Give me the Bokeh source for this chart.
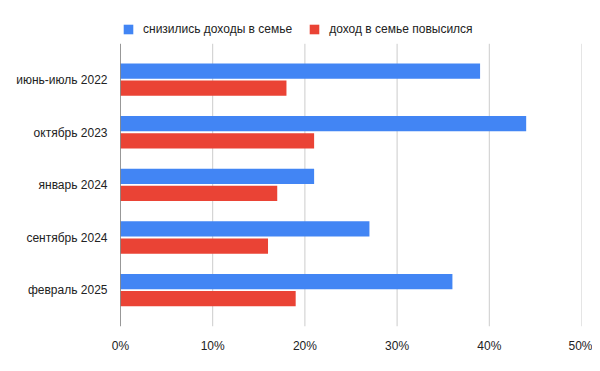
from bokeh.plotting import figure
from bokeh.models import Range1d, FixedTicker, Legend, LegendItem, ColumnDataSource
from bokeh.embed import file_html
from bokeh.resources import INLINE

categories = ["июнь-июль 2022", "октябрь 2023", "январь 2024", "сентябрь 2024", "февраль 2025"]
decreased = [39, 44, 21, 27, 36]
increased = [18, 21, 17, 16, 19]
series_names = ["снизились доходы в семье", "доход в семье повысился"]
x_ticks = [0, 10, 20, 30, 40, 50]

n = len(categories)
ypos = [n - 1 - i for i in range(n)]

src = ColumnDataSource(dict(
    y_blue=[y + 0.167 for y in ypos],
    y_red=[y - 0.158 for y in ypos],
    dec=decreased, inc=increased,
))

FONT = "Liberation Sans"
UNIT = 53.76                       # pixels per category band
PAD = 10 / UNIT                    # grid extends 10px beyond the bands
Y_BOTTOM = -0.5 - PAD
Y_TOP_GRID = n - 0.5 + PAD
Y_TOP = n - 0.5 + 44 / UNIT        # extra room for legend inside the frame

p = figure(width=592, height=355, output_backend="svg", toolbar_location=None,
           x_range=Range1d(0, 50), y_range=Range1d(Y_BOTTOM, Y_TOP),
           min_border_left=120, min_border_right=11, min_border_top=10, min_border_bottom=22)
p.outline_line_color = None
p.xgrid.grid_line_color = None
p.ygrid.grid_line_color = None

grid_x = x_ticks[1:]
p.segment(x0=grid_x, x1=grid_x, y0=[Y_BOTTOM] * len(grid_x), y1=[Y_TOP_GRID] * len(grid_x),
          line_color="#cccccc", line_width=1)

r1 = p.hbar(y="y_blue", right="dec", left=0, height=0.29, source=src,
            fill_color="#4285F4", line_color=None)
r2 = p.hbar(y="y_red", right="inc", left=0, height=0.29, source=src,
            fill_color="#EA4335", line_color=None)

p.segment(x0=[0], x1=[0], y0=[Y_BOTTOM], y1=[Y_TOP_GRID], line_color="#333333", line_width=1)

p.xaxis.ticker = FixedTicker(ticks=x_ticks)
p.xaxis.major_label_overrides = {t: f"{t}%" for t in x_ticks}
p.xaxis.axis_line_color = None
p.xaxis.major_tick_line_color = None
p.xaxis.minor_tick_line_color = None
p.xaxis.major_label_standoff = 6
p.xaxis.major_label_text_font = FONT
p.xaxis.major_label_text_font_size = "12px"
p.xaxis.major_label_text_color = "#222222"

p.yaxis.ticker = FixedTicker(ticks=ypos)
p.yaxis.major_label_overrides = {y: c for y, c in zip(ypos, categories)}
p.yaxis.axis_line_color = None
p.yaxis.major_tick_line_color = None
p.yaxis.minor_tick_line_color = None
p.yaxis.major_label_standoff = 7
p.yaxis.major_label_text_font = FONT
p.yaxis.major_label_text_font_size = "12px"
p.yaxis.major_label_text_color = "#222222"

legend = Legend(items=[LegendItem(label=series_names[0], renderers=[r1]),
                       LegendItem(label=series_names[1], renderers=[r2])],
                orientation="horizontal", location=(2, 290),
                padding=0, margin=0, spacing=16, label_standoff=9,
                glyph_width=12, glyph_height=12, label_height=12,
                border_line_alpha=0, background_fill_alpha=0,
                label_text_font=FONT, label_text_font_size="12px",
                label_text_color="#222222")
p.add_layout(legend, "center")

open("out.html", "w").write(file_html(p, INLINE))
